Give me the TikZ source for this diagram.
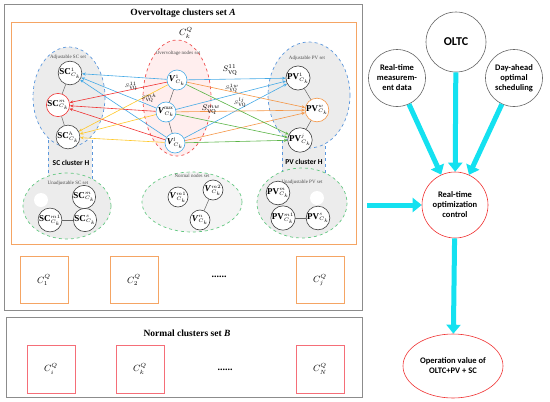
\documentclass[tikz,border=0pt]{standalone}
\usepackage{amsmath}
\usepackage{fontspec}
\setmainfont{Liberation Serif}
\newfontfamily\calibri{Carlito}
\usepackage{tikz}
\usepackage{xcolor}
\usetikzlibrary{arrows.meta,shapes.geometric}

\definecolor{lnblue}{RGB}{70,170,230}
\definecolor{lnred}{RGB}{240,50,50}
\definecolor{lnyel}{RGB}{255,200,40}
\definecolor{lnorange}{RGB}{245,150,70}
\definecolor{lngreen}{RGB}{90,180,70}
\definecolor{boxorange}{RGB}{245,165,100}
\definecolor{boxred}{RGB}{245,110,120}
\definecolor{setgray}{RGB}{236,236,236}
\definecolor{setpink}{RGB}{255,238,238}
\definecolor{dashblue}{RGB}{90,150,220}
\definecolor{dashred}{RGB}{240,80,80}
\definecolor{dashgreen}{RGB}{100,200,130}
\definecolor{fatcyan}{RGB}{20,225,240}

\tikzstyle{bus} = [circle, draw=black!75, fill=white, line width=0.6pt, minimum size=20pt, inner sep=0pt, font=\fontsize{9}{9}\selectfont]
\tikzstyle{vbus} = [bus, draw=lnblue]
\tikzstyle{setname} = [font=\fontsize{5}{6}\selectfont, text=black!70]
\tikzstyle{flow} = [line width=0.6pt, -{Stealth[length=3.5pt,width=3pt]}]
\tikzstyle{cluster} = [rectangle, draw, line width=0.8pt, minimum width=48pt, minimum height=47pt, font=\fontsize{9}{9}\selectfont]
\tikzstyle{bubble} = [circle, draw=black!60, fill=white, line width=0.6pt, align=center, inner sep=0pt, font=\calibri\bfseries\fontsize{8.5}{10}\selectfont]
\tikzstyle{fat} = [line width=5pt, draw=fatcyan, -{Triangle[length=9pt,width=14pt]}]

\newcommand{\busname}[2]{\textbf{#1}$^{\scriptscriptstyle #2}_{\scriptscriptstyle C_k}$}
\newcommand{\vname}[1]{\textbf{\textit{V}}$^{\scriptscriptstyle #1}_{\scriptscriptstyle C_k}$}

\begin{document}
\begin{tikzpicture}[x=1pt,y=-1pt]
\useasboundingbox (0,0) rectangle (550,402);

% overvoltage clusters set A
\draw[black!45, line width=1pt] (4,4) rectangle (362,310);
\node[font=\bfseries\fontsize{9.5}{10}\selectfont] (titleA) at (183,13) {Overvoltage clusters set \textit{A}};
\draw[boxorange, line width=1pt] (11,22) rectangle (356,244);
\node[font=\fontsize{9}{9}\selectfont] (ck) at (186,33) {$C_k^Q$};

% cluster H strips
\fill[setgray] (48,140) rectangle (92,180);
\draw[dashblue, dashed, line width=0.6pt] (48,140) -- (48,180) (92,140) -- (92,180);
\fill[setgray] (282,140) rectangle (325,175);
\draw[dashblue, dashed, line width=0.6pt] (282,140) -- (282,175) (325,140) -- (325,175);
\node[font=\calibri\bfseries\fontsize{7.5}{8}\selectfont] (hSC) at (71,163) {SC cluster H};
\node[font=\calibri\bfseries\fontsize{7.5}{8}\selectfont] (hPV) at (304,162) {PV cluster H};

% sets
\draw[dashblue, dashed, fill=setgray, line width=0.7pt] (69,97) ellipse [x radius=36, y radius=50];
\draw[dashred, dashed, fill=setpink, line width=0.7pt] (177,98) ellipse [x radius=34, y radius=58];
\draw[dashblue, dashed, fill=setgray, line width=0.7pt] (309,95) ellipse [x radius=41, y radius=53];
\draw[dashgreen, dashed, fill=setgray, line width=0.7pt] (67,206) ellipse [x radius=44, y radius=33];
\draw[dashgreen, dashed, fill=setgray!60, line width=0.7pt] (192,202) ellipse [x radius=50, y radius=30];
\draw[dashgreen, dashed, fill=setgray, line width=0.7pt] (302,203) ellipse [x radius=45, y radius=35];
\fill[white] (41,200) circle (7);
\fill[white] (317,198) circle (7);

\node[setname] (tSCa) at (68,57) {Adjustable SC set};
\node[setname] (tV) at (178,53) {Overvoltage nodes set};
\node[setname] (tPVa) at (307,58) {Adjustable PV set};
\node[setname] (tSCu) at (68,183) {Unadjustable SC set};
\node[setname] (tN) at (192,176) {Normal nodes set};
\node[setname] (tPVu) at (302,182) {Unadjustable PV set};

% buses
\node[bus] (SC1) at (70,73) {\busname{SC}{1}};
\node[bus, draw=lnred] (SCm) at (58,105) {\busname{SC}{m}};
\node[bus] (SCh) at (68,137) {\busname{SC}{h}};
\node[vbus] (V1) at (177,80) {\vname{1}};
\node[vbus] (Vmax) at (166,112) {\vname{\mathrm{max}}};
\node[vbus] (Vl) at (175,143) {\vname{l}};
\node[bus] (PV1) at (298,78) {\busname{PV}{1}};
\node[bus, draw=lnorange] (PVw) at (317,110) {\busname{PV}{w}};
\node[bus] (PVj) at (300,140) {\busname{PV}{j}};

\node[bus] (SCum) at (84,197) {\busname{SC}{m}};
\node[bus] (SCum1) at (50,220) {\busname{SC}{m1}};
\node[bus] (SCus) at (85,220) {\busname{SC}{s}};
\node[bus] (Vm1) at (178,197) {\vname{m1}};
\node[bus] (Vm2) at (213,190) {\vname{m2}};
\node[bus] (Vn) at (200,220) {\vname{n}};
\node[bus] (PVum) at (278,193) {\busname{PV}{m}};
\node[bus] (PVum1) at (283,218) {\busname{PV}{m1}};
\node[bus] (PVus) at (318,218) {\busname{PV}{s}};

\foreach \from/\to in {SC1/SCm,SCm/SCh,V1/Vmax,Vmax/Vl,PV1/PVw,PVw/PVj,Vm2/Vn,SCum1/SCus,PVum1/PVus}
{
	\draw[black!60, line width=0.5pt] (\from) -- (\to);
}

\foreach \to/\col in {SC1/lnblue,SCm/lnred,SCh/lnyel,PV1/lnblue,PVw/lnorange,PVj/lngreen}
{
	\foreach \from in {V1,Vmax,Vl}
		\draw[flow, \col] (\from) -- (\to);
}

\node[font=\fontsize{8}{8}\selectfont] (s11) at (230,70) {$S_{\mathrm{VQ}}^{11}$};
\node[font=\fontsize{8}{8}\selectfont] (smw) at (211,110) {$S_{\mathrm{VQ}}^{mw}$};
\node[font=\fontsize{5}{5}\selectfont] (s1w) at (232,88) {$S_{\mathrm{VQ}}^{1w}$};
\node[font=\fontsize{5}{5}\selectfont] (slj) at (240,103) {$S_{\mathrm{VQ}}^{lj}$};
\node[font=\fontsize{5}{5}\selectfont] (s11l) at (131,86) {$S_{\mathrm{VQ}}^{11}$};
\node[font=\fontsize{5}{5}\selectfont] (smh) at (149,98) {$S_{\mathrm{VQ}}^{mh}$};

% other clusters
\node[cluster, draw=boxorange] (C1) at (44,280) {$C_1^Q$};
\node[cluster, draw=boxorange] (C2) at (134,280) {$C_2^Q$};
\node[font=\bfseries] (dotsA) at (219,277) {......};
\node[cluster, draw=boxorange] (Cj) at (320,280) {$C_j^Q$};

% normal clusters set B
\draw[black!45, line width=1pt] (6,317) rectangle (362,397);
\node[font=\bfseries\fontsize{9.5}{10}\selectfont] (titleB) at (187,333) {Normal clusters set \textit{B}};
\node[cluster, draw=boxred, minimum height=48pt] (Ci) at (51,369) {$C_i^Q$};
\node[cluster, draw=boxred, minimum height=48pt] (Ck) at (140,369) {$C_k^Q$};
\node[font=\bfseries] (dotsB) at (225,370) {......};
\node[cluster, draw=boxred, minimum height=48pt] (CN) at (320,369) {$C_N^Q$};

% control side
\node[bubble, minimum size=57pt] (meas) at (397,78) {Real-time\\measurem-\\ent data};
\node[bubble, minimum size=60pt, font=\calibri\bfseries\fontsize{12}{12}\selectfont] (oltc) at (456,42) {OLTC};
\node[bubble, minimum size=57pt] (dayahead) at (514,78) {Day-ahead\\optimal\\scheduling};
\node[bubble, draw=lnred, minimum size=66pt] (ctrl) at (455,205) {Real-time\\optimization\\control};
\node[bubble, ellipse, draw=lnred, minimum width=100pt, minimum height=64pt] (oper) at (453,366) {Operation value of\\OLTC+PV + SC};
\coordinate (feed) at (367,205);

\foreach \from/\to in {meas/ctrl,oltc/ctrl,dayahead/ctrl,feed/ctrl,ctrl/oper}
{
	\draw[fat] (\from) -- (\to);
}

\end{tikzpicture}
\end{document}
